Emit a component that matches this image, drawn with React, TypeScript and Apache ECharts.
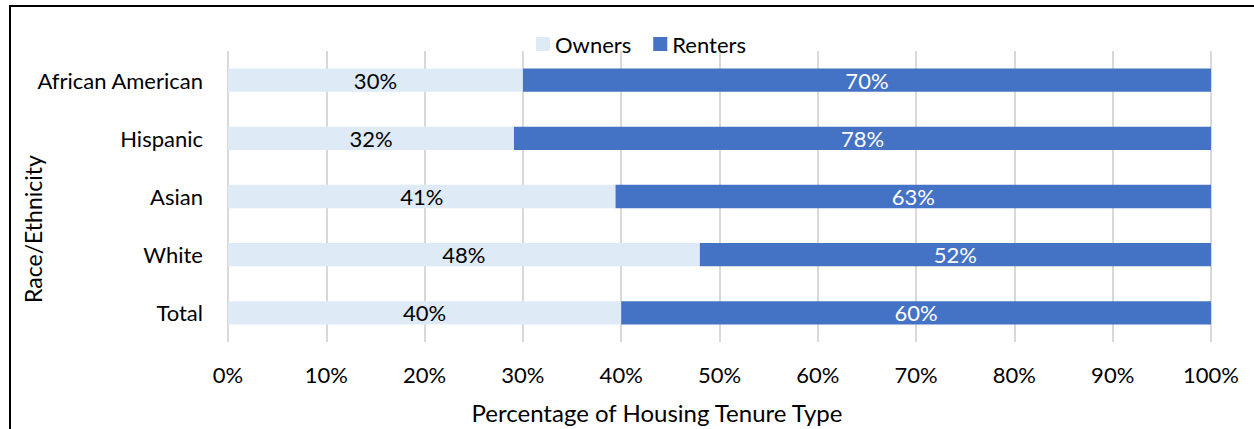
import React, { useEffect, useRef } from "react";
import * as echarts from "echarts";

const categories = ["African American", "Hispanic", "Asian", "White", "Total"];
const owners = [30, 32, 41, 48, 40];
const renters = [70, 78, 63, 52, 60];
const xTicks = [0, 10, 20, 30, 40, 50, 60, 70, 80, 90, 100];

const FONT = "Lato, 'Open Sans', sans-serif";
const FS = 22;

export default function App() {
  const ref = useRef<HTMLDivElement>(null);
  useEffect(() => {
    if (!ref.current) return;
    const chart = echarts.init(ref.current, undefined, { renderer: "svg" });
    const totals = owners.map((o, i) => o + renters[i]);
    const ownerShare = owners.map((o, i) => (o / totals[i]) * 100);
    const renterShare = renters.map((r, i) => (r / totals[i]) * 100);
    chart.setOption({
      animation: false,
      backgroundColor: "#ffffff",
      textStyle: { fontFamily: FONT },
      legend: {
        data: ["Owners", "Renters"],
        left: 536,
        top: 33,
        padding: 0,
        itemWidth: 14,
        itemHeight: 14,
        itemGap: 22,
        icon: "rect",
        textStyle: { fontSize: FS, color: "#000", fontFamily: FONT },
      },
      grid: { left: 228, right: 43, top: 51, bottom: 87, containLabel: false },
      xAxis: {
        type: "value",
        min: 0,
        max: 100,
        interval: 10,
        axisLine: { show: false },
        axisTick: { show: false },
        axisLabel: {
          fontSize: FS,
          color: "#000",
          fontFamily: FONT,
          margin: 21,
          formatter: (v: number) => (xTicks.includes(v) ? v + "%" : ""),
        },
        splitLine: { show: true, lineStyle: { color: "#D9D9D9", width: 2 } },
      },
      yAxis: {
        type: "category",
        data: categories,
        inverse: true,
        axisLine: { show: false },
        axisTick: { show: false },
        axisLabel: { fontSize: FS, color: "#000", fontFamily: FONT, margin: 25 },
        splitLine: { show: false },
      },
      series: [
        {
          name: "Owners",
          type: "bar",
          stack: "total",
          barWidth: "40%",
          itemStyle: { color: "#DEEBF7" },
          label: {
            show: true,
            position: "inside",
            fontSize: FS,
            color: "#000",
            fontFamily: FONT,
            formatter: (p: any) => owners[p.dataIndex] + "%",
          },
          data: ownerShare,
        },
        {
          name: "Renters",
          type: "bar",
          stack: "total",
          barWidth: "40%",
          itemStyle: { color: "#4472C4" },
          label: {
            show: true,
            position: "inside",
            fontSize: FS,
            color: "#fff",
            fontFamily: FONT,
            formatter: (p: any) => renters[p.dataIndex] + "%",
          },
          data: renterShare,
        },
      ],
      graphic: [
        {
          type: "rect",
          shape: { x: 10, y: 6, width: 1300, height: 500 },
          style: { fill: "none", stroke: "#000", lineWidth: 2 },
          silent: true,
        },
        {
          type: "text",
          x: 33,
          y: 229,
          rotation: Math.PI / 2,
          style: {
            text: "Race/Ethnicity",
            fontSize: 23,
            fontFamily: FONT,
            fill: "#000",
            align: "center",
            verticalAlign: "middle",
          },
        },
        {
          type: "text",
          x: 657,
          y: 412,
          style: {
            text: "Percentage of Housing Tenure Type",
            fontSize: 24,
            fontFamily: FONT,
            fill: "#000",
            align: "center",
            verticalAlign: "middle",
          },
        },
      ],
    });
    return () => chart.dispose();
  }, []);
  return (
    <div
      ref={ref}
      style={{ position: "absolute", left: 0, top: 0, width: 1254, height: 429 }}
    />
  );
}
